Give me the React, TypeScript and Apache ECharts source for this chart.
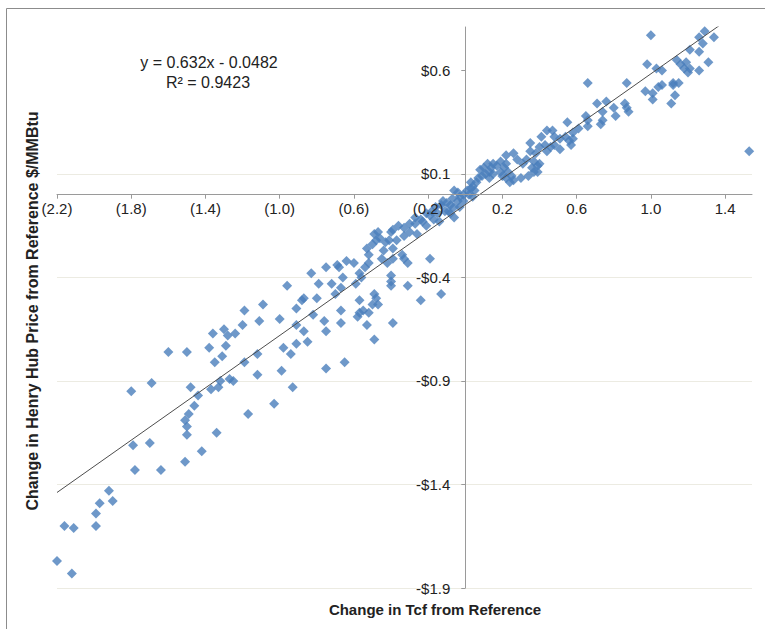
import React, { useEffect, useRef } from "react";
import * as echarts from "echarts";

// Change in Tcf from Reference (x) and change in Henry Hub price (y)
const tcfChange: number[] = [
  -2.20, -2.12, -2.16, -2.11, -1.99, -1.99, -1.97, -1.92, -1.90, -1.79,
  -1.78, -1.70, -1.64, -1.51, -1.42, -1.34, -1.50, -1.50, -1.51, -1.49,
  -1.46, -1.17, -1.03, -1.80, -1.69, -1.60, -1.50, -1.48, -1.44, -1.38,
  -1.36, -1.30, -1.28, -1.29, -1.31, -1.35, -1.24, -1.20, -1.19, -1.09,
  -1.11, -1.00, -1.19, -1.12, -1.37, -1.33, -1.32, -1.27, -1.25, -1.12,
  -0.98, -0.94, -0.91, -0.85, -0.87, -0.91, -0.76, -0.75, -0.67, -0.53,
  -0.49, -0.39, -0.99, -0.75, -0.65, -0.93, -0.96, -0.91, -0.88, -0.87,
  -0.82, -0.80, -0.79, -0.83, -0.75, -0.72, -0.70, -0.69, -0.68, -0.67,
  -0.67, -0.66, -0.64, -0.60, -0.59, -0.57, -0.58, -0.57, -0.55, -0.57,
  -0.54, -0.52, -0.53, -0.50, -0.49, -0.48, -0.50, -0.49, -0.48, -0.56,
  -0.52, -0.47, -0.52, -0.45, -0.44, -0.43, -0.39, -0.37, -0.33, -0.30,
  -0.27, -0.26, -0.23, -0.21, -0.40, -0.47, -0.41, -0.42, -0.39, -0.33,
  -0.31, -0.34, -0.40, -0.40, -0.40, -0.31, -0.24, -0.19, -0.13, -0.46,
  -0.39, -0.36, -0.33, -0.30, -0.27, -0.21, -0.18, -0.16, -0.13, -0.12,
  -0.11, -0.09, -0.08, -0.06, -0.04, -0.03, -0.01, 0.01, 0.03, 0.04,
  0.06, 0.07, 0.09, 0.11, 0.13, 0.14, 0.15, 0.17, 0.19, 0.21,
  0.22, 0.23, 0.25, 0.26, 0.28, 0.31, 0.33, 0.36, 0.37, 0.35,
  0.38, 0.40, 0.26, 0.35, 0.43, 0.44, 0.46, 0.44, 0.47, 0.48,
  0.41, 0.03, 0.04, -0.01, -0.03, -0.06, -0.08, -0.14, -0.06, -0.04,
  0.08, 0.10, 0.12, 0.13, 0.15, 0.19, 0.20, 0.22, 0.24, 0.22,
  0.30, 0.37, 0.39, 0.39, 0.34, 0.40, 1.00, 1.29, 1.34, 1.28,
  1.26, 1.21, 1.26, 1.31, 1.26, 1.14, 1.16, 1.19, 1.21, 1.18,
  1.20, 0.98, 1.03, 1.06, 1.12, 1.15, 1.12, 1.06, 1.04, 0.97,
  1.01, 1.01, 1.13, 1.11, 0.87, 0.66, 0.76, 0.71, 0.86, 0.87,
  0.88, 0.80, 0.81, 0.74, 0.74, 0.73, 0.66, 0.66, 0.65, 0.55,
  0.61, 0.58, 0.54, 0.51, 0.56, 0.58, 0.48, 1.53, 0.57, 0.51,
  -0.19, -0.15, -0.10, -0.07, 0.02, 0.05, -0.24, -0.17,
];

const priceChange: number[] = [
  -1.77, -1.83, -1.60, -1.61, -1.60, -1.54, -1.49, -1.43, -1.48, -1.21,
  -1.33, -1.20, -1.33, -1.29, -1.24, -1.15, -1.16, -1.12, -1.09, -1.06,
  -1.02, -1.06, -1.01, -0.95, -0.91, -0.76, -0.76, -0.93, -0.97, -0.74,
  -0.67, -0.65, -0.68, -0.73, -0.78, -0.81, -0.67, -0.63, -0.56, -0.53,
  -0.61, -0.60, -0.81, -0.77, -0.94, -0.93, -0.90, -0.89, -0.90, -0.87,
  -0.74, -0.77, -0.72, -0.71, -0.66, -0.63, -0.61, -0.66, -0.62, -0.63,
  -0.70, -0.62, -0.85, -0.84, -0.81, -0.93, -0.44, -0.55, -0.51, -0.50,
  -0.58, -0.50, -0.43, -0.38, -0.35, -0.43, -0.48, -0.34, -0.35, -0.45,
  -0.56, -0.40, -0.32, -0.33, -0.43, -0.51, -0.59, -0.57, -0.56, -0.38,
  -0.35, -0.33, -0.26, -0.24, -0.19, -0.22, -0.53, -0.48, -0.50, -0.40,
  -0.29, -0.53, -0.57, -0.31, -0.27, -0.23, -0.26, -0.22, -0.20, -0.18,
  -0.14, -0.19, -0.13, -0.15, -0.18, -0.18, -0.22, -0.33, -0.31, -0.31,
  -0.33, -0.29, -0.39, -0.44, -0.42, -0.44, -0.51, -0.31, -0.48, -0.21,
  -0.17, -0.15, -0.16, -0.14, -0.11, -0.09, -0.08, -0.06, -0.05, -0.03,
  -0.08, -0.08, -0.05, -0.06, -0.03, -0.01, 0.00, 0.02, 0.03, 0.04,
  0.06, 0.08, 0.09, 0.10, 0.11, 0.13, 0.15, 0.14, 0.16, 0.13,
  0.15, 0.11, 0.09, 0.07, 0.17, 0.15, 0.17, 0.13, 0.16, 0.21,
  0.20, 0.23, 0.20, 0.25, 0.24, 0.21, 0.23, 0.31, 0.31, 0.28,
  0.28, 0.06, -0.01, -0.03, -0.06, -0.11, -0.09, -0.13, 0.02, 0.01,
  0.12, 0.13, 0.15, 0.08, 0.10, 0.11, 0.09, 0.08, 0.06, 0.19,
  0.08, 0.11, 0.14, 0.11, 0.09, 0.15, 0.77, 0.79, 0.76, 0.73,
  0.76, 0.70, 0.69, 0.64, 0.60, 0.65, 0.63, 0.64, 0.61, 0.61,
  0.59, 0.63, 0.61, 0.60, 0.54, 0.54, 0.53, 0.53, 0.52, 0.50,
  0.49, 0.46, 0.48, 0.44, 0.54, 0.54, 0.45, 0.44, 0.44, 0.42,
  0.40, 0.42, 0.38, 0.40, 0.36, 0.34, 0.36, 0.33, 0.38, 0.35,
  0.32, 0.30, 0.28, 0.27, 0.26, 0.27, 0.24, 0.21, 0.24, 0.22,
  -0.10, -0.09, -0.04, -0.02, 0.00, 0.02, -0.12, -0.12,
];

const xTickLabels: number[] = [-2.2, -1.8, -1.4, -1.0, -0.6, -0.2, 0.2, 0.6, 1.0, 1.4];
const yTickLabels: number[] = [-1.9, -1.4, -0.9, -0.4, 0.1, 0.6];

const trendSlope = 0.632;
const trendIntercept = -0.0482;
const equationText = "y = 0.632x - 0.0482";
const rSquaredText = "R\u00B2 = 0.9423";

const FONT = "'Liberation Sans', Arial, sans-serif";

const X_MIN = -2.2;
const X_MAX = 1.545;
const Y_MIN = -1.9;
const Y_MAX = 0.81;
const GRID = { left: 57, right: 13, top: 27, bottom: 41 };
const W = 765;
const H = 629;

export default function App() {
  const ref = useRef<HTMLDivElement>(null);

  useEffect(() => {
    if (!ref.current) return;
    const chart = echarts.init(ref.current, null, { renderer: "svg" });

    const points = tcfChange.map((x, i) => [x, priceChange[i]]);
    const xMin = Math.min(...tcfChange);
    const xMax = Math.max(...tcfChange);
    const trend = [
      [xMin, trendSlope * xMin + trendIntercept],
      [xMax, trendSlope * xMax + trendIntercept],
    ];

    // axes cross at zero: shift each axis from the grid edge to the zero of the other
    const gridW = W - GRID.left - GRID.right;
    const gridH = H - GRID.top - GRID.bottom;
    const xAxisOffset = -((0 - Y_MIN) / (Y_MAX - Y_MIN)) * gridH;
    const yAxisOffset = -((0 - X_MIN) / (X_MAX - X_MIN)) * gridW;

    const axisColor = "#9a9a9a";

    chart.setOption({
      animation: false,
      backgroundColor: "#ffffff",
      grid: GRID,
      xAxis: {
        type: "value",
        min: X_MIN,
        max: X_MAX,
        interval: 0.4,
        position: "bottom",
        offset: xAxisOffset,
        z: 5,
        axisLine: { show: true, onZero: false, lineStyle: { color: axisColor, width: 1 } },
        axisTick: {
          show: true,
          customValues: xTickLabels,
          length: 4,
          lineStyle: { color: axisColor },
        },
        axisLabel: {
          customValues: xTickLabels,
          margin: 6,
          fontSize: 15,
          color: "#222",
          fontFamily: FONT,
          formatter: (v: number) =>
            v < 0 ? `(${Math.abs(v).toFixed(1)})` : v.toFixed(1),
        },
        splitLine: { show: false },
      },
      yAxis: {
        type: "value",
        min: Y_MIN,
        max: Y_MAX,
        interval: 0.5,
        position: "left",
        offset: yAxisOffset,
        axisLine: { show: true, onZero: false, lineStyle: { color: axisColor, width: 1 } },
        axisTick: {
          show: true,
          customValues: yTickLabels,
          length: 4,
          lineStyle: { color: axisColor },
        },
        axisLabel: {
          customValues: yTickLabels,
          margin: 15,
          fontSize: 15,
          color: "#222",
          fontFamily: FONT,
          formatter: (v: number) =>
            v < 0 ? `-$${Math.abs(v).toFixed(1)}` : `$${v.toFixed(1)}`,
        },
        splitLine: {
          show: true,
          showMaxLine: false,
          lineStyle: { color: "#ECEBE2", width: 1 },
        },
      },
      series: [
        {
          type: "scatter",
          data: points,
          symbol: "diamond",
          symbolSize: 10,
          itemStyle: { color: "#4A7EBB" },
          z: 2,
        },
        {
          type: "line",
          data: trend,
          symbol: "none",
          silent: true,
          lineStyle: { color: "#4d4d4d", width: 1 },
          z: 3,
        },
      ],
      graphic: [
        {
          type: "line",
          shape: { x1: 6.5, y1: 8.5, x2: 765, y2: 8.5 },
          style: { stroke: "#8c8c8c", lineWidth: 1 },
        },
        {
          type: "line",
          shape: { x1: 6.5, y1: 8.5, x2: 6.5, y2: 629 },
          style: { stroke: "#8c8c8c", lineWidth: 1 },
        },
        {
          type: "text",
          x: 209,
          y: 62,
          style: {
            text: equationText,
            fontSize: 16,
            fontFamily: FONT,
            fill: "#222",
            textAlign: "center",
            textVerticalAlign: "middle",
          },
        },
        {
          type: "text",
          x: 208,
          y: 82,
          style: {
            text: rSquaredText,
            fontSize: 16,
            fontFamily: FONT,
            fill: "#222",
            textAlign: "center",
            textVerticalAlign: "middle",
          },
        },
        {
          type: "text",
          x: 435,
          y: 609,
          style: {
            text: "Change in Tcf from Reference",
            fontSize: 15,
            fontWeight: "bold",
            fontFamily: FONT,
            fill: "#222",
            textAlign: "center",
            textVerticalAlign: "middle",
          },
        },
        {
          type: "text",
          x: 32,
          y: 311,
          rotation: Math.PI / 2,
          style: {
            text: "Change in Henry Hub Price from Reference $/MMBtu",
            fontSize: 16,
            fontWeight: "bold",
            fontFamily: FONT,
            fill: "#222",
            textAlign: "center",
            textVerticalAlign: "middle",
          },
        },
      ],
    });

    return () => chart.dispose();
  }, []);

  return (
    <div
      ref={ref}
      style={{ position: "absolute", left: 0, top: 0, width: W, height: H }}
    />
  );
}
